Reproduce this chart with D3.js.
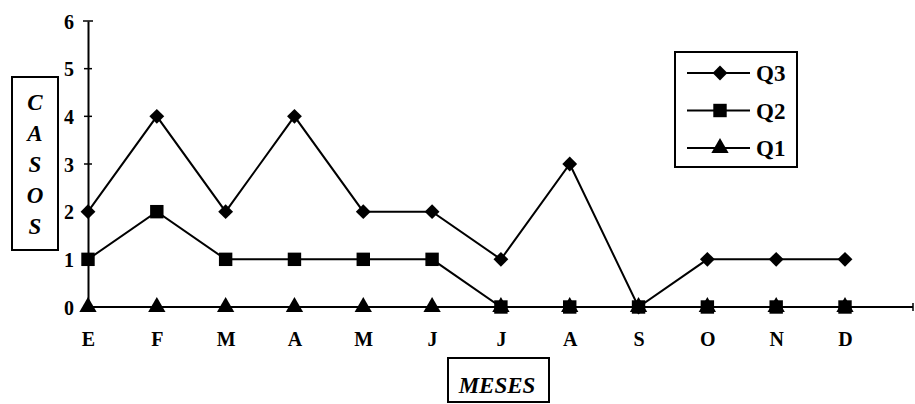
<!DOCTYPE html>
<html>
<head>
<meta charset="utf-8">
<script src="https://cdn.jsdelivr.net/npm/d3@7"></script>
<style>
  body { margin: 0; background: #fff; }
  text { font-family: "Liberation Serif", "Times New Roman", serif; font-weight: bold; fill: #000; }
</style>
</head>
<body>
<div id="graph"></div>
<script>
// month labels (Spanish initials)
let months = ["E", "F", "M", "A", "M", "J", "J", "A", "S", "O", "N", "D"];
let yTicks = [0, 1, 2, 3, 4, 5, 6];

// series values
let q3 = [2, 4, 2, 4, 2, 2, 1, 3, 0, 1, 1, 1];
let q2 = [1, 2, 1, 1, 1, 1, 0, 0, 0, 0, 0, 0];
let q1 = [0, 0, 0, 0, 0, 0, 0, 0, 0, 0, 0, 0];

// diamond = square turned 45 degrees
let series = [
  {name: "Q1", values: q1, shape: d3.symbolTriangle, size: 130, rot: 0},
  {name: "Q2", values: q2, shape: d3.symbolSquare, size: 180, rot: 0},
  {name: "Q3", values: q3, shape: d3.symbolSquare, size: 110, rot: 45}
];

let width = 915, height = 404;

let svg = d3.select("#graph")
            .append("svg")
             .attr("width", width)
             .attr("height", height);

let x = d3.scaleLinear().domain([0, months.length - 1]).range([88, 845]);
let y = d3.scaleLinear().domain([0, 6]).range([307, 21]);

// x axis line running out to the right edge
svg.append("line")
   .attr("x1", x(0)).attr("x2", 913)
   .attr("y1", y(0)).attr("y2", y(0))
   .attr("stroke", "#000").attr("stroke-width", 2);
svg.append("line")
   .attr("x1", 913).attr("x2", 913)
   .attr("y1", y(0) - 4).attr("y2", y(0) + 4)
   .attr("stroke", "#000").attr("stroke-width", 1.5);

// y axis
let yAxis = svg.append("g")
               .attr("transform", "translate(" + x(0) + ",0)")
               .call(d3.axisLeft(y).tickValues(yTicks).tickSize(0).tickPadding(14)
                       .tickFormat(d3.format("d")));
yAxis.select(".domain").attr("stroke-width", 2);
yAxis.selectAll("text").attr("font-size", 20).attr("dy", "0.35em");

// little cross ticks on the y axis, wider cap on top
svg.selectAll("line.ytick")
   .data(yTicks.slice(1))
   .enter().append("line")
   .attr("class", "ytick")
   .attr("x1", d => x(0) - (d === 6 ? 5 : 4)).attr("x2", d => x(0) + (d === 6 ? 5 : 4))
   .attr("y1", d => y(d)).attr("y2", d => y(d))
   .attr("stroke", "#000").attr("stroke-width", 1.5);

// x tick labels
let xAxis = svg.append("g")
               .attr("transform", "translate(0," + y(0) + ")")
               .call(d3.axisBottom(x).tickValues(d3.range(months.length)).tickSize(0).tickPadding(25)
                       .tickFormat(i => months[i]));
xAxis.select(".domain").remove();
xAxis.selectAll("text").attr("font-size", 20);

// lines and markers
let line = d3.line()
             .x((d, i) => x(i))
             .y(d => y(d));

series.forEach(function(s) {
  svg.append("path")
     .datum(s.values)
     .attr("fill", "none")
     .attr("stroke", "#000")
     .attr("stroke-width", 2)
     .attr("d", line);
});

series.forEach(function(s) {
  svg.selectAll("path.m" + s.name)
     .data(s.values)
     .enter().append("path")
     .attr("class", "m" + s.name)
     .attr("d", d3.symbol().type(s.shape).size(s.size))
     .attr("transform", (d, i) => "translate(" + x(i) + "," + y(d) + ") rotate(" + s.rot + ")")
     .attr("fill", "#000");
});

// legend
let legend = svg.append("g");
legend.append("rect")
      .attr("x", 675).attr("y", 52)
      .attr("width", 122).attr("height", 115)
      .attr("fill", "#fff").attr("stroke", "#000").attr("stroke-width", 2);

let legendItems = series.slice().reverse();
let ly = d3.scalePoint().domain(legendItems.map(d => d.name)).range([73, 148]);

legendItems.forEach(function(s) {
  let g = legend.append("g").attr("transform", "translate(0," + ly(s.name) + ")");
  g.append("line")
   .attr("x1", 687).attr("x2", 750)
   .attr("stroke", "#000").attr("stroke-width", 2);
  g.append("path")
   .attr("d", d3.symbol().type(s.shape).size(s.size))
   .attr("transform", "translate(720,0) rotate(" + s.rot + ")")
   .attr("fill", "#000");
  g.append("text")
   .attr("x", 756).attr("dy", "0.35em")
   .attr("font-size", 23)
   .text(s.name);
});

// CASOS box (vertical title)
svg.append("rect")
   .attr("x", 12).attr("y", 77)
   .attr("width", 46).attr("height", 173)
   .attr("fill", "none").attr("stroke", "#000").attr("stroke-width", 2);
let casos = ["C", "A", "S", "O", "S"];
svg.selectAll("text.casos")
   .data(casos)
   .enter().append("text")
   .attr("class", "casos")
   .attr("x", 35)
   .attr("y", (d, i) => 102 + i * 31)
   .attr("dy", "0.35em")
   .attr("text-anchor", "middle")
   .attr("font-size", 23)
   .attr("font-style", "italic")
   .text(d => d);

// MESES box
svg.append("rect")
   .attr("x", 448).attr("y", 358)
   .attr("width", 101).attr("height", 44)
   .attr("fill", "none").attr("stroke", "#000").attr("stroke-width", 2);
svg.append("text")
   .attr("x", 497).attr("y", 385)
   .attr("dy", "0.35em")
   .attr("text-anchor", "middle")
   .attr("font-size", 23)
   .attr("font-style", "italic")
   .text("MESES");
</script>
</body>
</html>
